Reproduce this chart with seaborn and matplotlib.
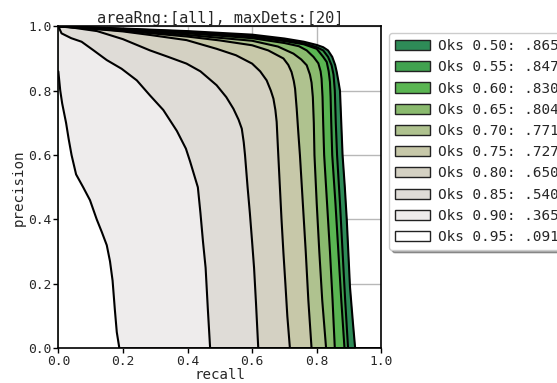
import matplotlib
matplotlib.use("Agg")
import matplotlib.pyplot as plt
from matplotlib.patches import Patch
import seaborn as sns
import pandas as pd

# ---------------- data ----------------
oks_labels = ["Oks 0.50: .865", "Oks 0.55: .847", "Oks 0.60: .830", "Oks 0.65: .804",
              "Oks 0.70: .771", "Oks 0.75: .727", "Oks 0.80: .650", "Oks 0.85: .540",
              "Oks 0.90: .365", "Oks 0.95: .091"]

rec_50 = [0, 0.2, 0.4, 0.6, 0.7, 0.76, 0.8, 0.82, 0.835, 0.848, 0.857, 0.862, 0.867, 0.872, 0.876, 0.88, 0.887, 0.893, 0.903, 0.912, 0.919, 1.0]
pre_50 = [1, 0.993, 0.985, 0.974, 0.962, 0.952, 0.942, 0.935, 0.925, 0.905, 0.88, 0.858, 0.83, 0.80, 0.70, 0.60, 0.50, 0.40, 0.19, 0.08, 0.0, 0.0]

rec_55 = [0, 0.2, 0.4, 0.6, 0.7, 0.76, 0.8, 0.82, 0.835, 0.846, 0.852, 0.856, 0.859, 0.863, 0.872, 0.88, 0.888, 0.897, 1.0]
pre_55 = [1, 0.992, 0.983, 0.97, 0.958, 0.947, 0.935, 0.925, 0.905, 0.879, 0.85, 0.80, 0.70, 0.60, 0.45, 0.30, 0.15, 0.0, 0.0]

rec_60 = [0, 0.2, 0.4, 0.6, 0.7, 0.76, 0.80, 0.82, 0.831, 0.837, 0.841, 0.843, 0.845, 0.848, 0.858, 0.867, 0.876, 0.886, 1.0]
pre_60 = [1, 0.991, 0.981, 0.967, 0.954, 0.944, 0.93, 0.905, 0.889, 0.86, 0.827, 0.78, 0.70, 0.60, 0.45, 0.30, 0.15, 0.0, 0.0]

rec_65 = [0, 0.2, 0.4, 0.6, 0.7, 0.745, 0.769, 0.79, 0.805, 0.812, 0.815, 0.818, 0.82, 0.823, 0.832, 0.841, 0.849, 0.856, 1.0]
pre_65 = [1, 0.99, 0.978, 0.963, 0.948, 0.938, 0.925, 0.905, 0.885, 0.86, 0.837, 0.78, 0.70, 0.60, 0.45, 0.30, 0.15, 0.0, 0.0]

rec_70 = [0, 0.2, 0.4, 0.6, 0.68, 0.728, 0.752, 0.769, 0.779, 0.784, 0.788, 0.791, 0.793, 0.80, 0.808, 0.817, 0.829, 1.0]
pre_70 = [1, 0.988, 0.973, 0.955, 0.937, 0.915, 0.897, 0.879, 0.85, 0.825, 0.78, 0.70, 0.60, 0.45, 0.30, 0.15, 0.0, 0.0]

rec_75 = [0, 0.2, 0.4, 0.5, 0.6, 0.65, 0.697, 0.712, 0.722, 0.729, 0.733, 0.738, 0.743, 0.748, 0.754, 0.76, 0.766, 0.774, 0.784, 1.0]
pre_75 = [1, 0.986, 0.968, 0.956, 0.941, 0.925, 0.90, 0.88, 0.858, 0.83, 0.806, 0.744, 0.67, 0.60, 0.50, 0.40, 0.30, 0.15, 0.0, 0.0]

rec_80 = [0, 0.1, 0.2, 0.284, 0.397, 0.49, 0.55, 0.6, 0.625, 0.645, 0.658, 0.666, 0.672, 0.676, 0.681, 0.686, 0.691, 0.697, 0.703, 0.709, 0.717, 1.0]
pre_80 = [1, 0.993, 0.984, 0.973, 0.957, 0.93, 0.91, 0.884, 0.86, 0.832, 0.80, 0.775, 0.74, 0.703, 0.60, 0.50, 0.40, 0.295, 0.20, 0.10, 0.0, 0.0]

rec_85 = [0, 0.05, 0.12, 0.2, 0.284, 0.34, 0.397, 0.44, 0.49, 0.52, 0.542, 0.558, 0.568, 0.574, 0.578, 0.586, 0.593, 0.600, 0.606, 0.612, 0.619, 1.0]
pre_85 = [1, 0.995, 0.985, 0.96, 0.925, 0.905, 0.884, 0.86, 0.817, 0.78, 0.744, 0.71, 0.682, 0.64, 0.60, 0.50, 0.42, 0.33, 0.25, 0.14, 0.0, 0.0]

rec_90 = [0, 0.01, 0.04, 0.072, 0.108, 0.15, 0.196, 0.243, 0.284, 0.325, 0.367, 0.395, 0.408, 0.42, 0.432, 0.44, 0.448, 0.456, 0.463, 0.47, 1.0]
pre_90 = [1, 0.978, 0.963, 0.952, 0.926, 0.895, 0.868, 0.832, 0.785, 0.74, 0.675, 0.62, 0.58, 0.54, 0.50, 0.42, 0.33, 0.25, 0.12, 0.0, 0.0]

rec_95 = [0, 0.006, 0.012, 0.024, 0.032, 0.041, 0.055, 0.077, 0.098, 0.105, 0.119, 0.135, 0.15, 0.16, 0.168, 0.175, 0.181, 0.189, 1.0]
pre_95 = [0.86, 0.80, 0.76, 0.70, 0.65, 0.60, 0.54, 0.50, 0.46, 0.44, 0.40, 0.36, 0.32, 0.27, 0.21, 0.12, 0.05, 0.0, 0.0]

recalls = [rec_50, rec_55, rec_60, rec_65, rec_70, rec_75, rec_80, rec_85, rec_90, rec_95]
precisions = [pre_50, pre_55, pre_60, pre_65, pre_70, pre_75, pre_80, pre_85, pre_90, pre_95]

colors = ["#2e8b57", "#41a24f", "#5ab552", "#8aba6e", "#afc28f",
          "#c7c8a9", "#d4d1c3", "#dfdcd7", "#eeecec", "#ffffff"]

ticks = [0.0, 0.2, 0.4, 0.6, 0.8, 1.0]
tick_labels = ["0.0", "0.2", "0.4", "0.6", "0.8", "1.0"]

# ---------------- plot ----------------
sns.set_style("whitegrid")
plt.rcParams["font.family"] = ["DejaVu Sans Mono", "DejaVu Sans"]

fig = plt.figure(figsize=(5.57, 3.83), dpi=100)
ax = fig.add_axes([0.1047, 0.0907, 0.5799, 0.8407])

for rec, pre, col in zip(recalls, precisions, colors):
    ax.fill_between(rec, pre, 0, color=col, linewidth=0, zorder=2)

for rec, pre in zip(recalls, precisions):
    df = pd.DataFrame({"recall": rec, "precision": pre})
    sns.lineplot(data=df, x="recall", y="precision", sort=False, estimator=None,
                 color="black", linewidth=1.5, ax=ax, zorder=3)

ax.set_xlim(0, 1)
ax.set_ylim(0, 1)
ax.set_xticks(ticks)
ax.set_xticklabels(tick_labels)
ax.set_yticks(ticks)
ax.set_yticklabels(tick_labels)
ax.tick_params(axis="both", labelsize=9.3, length=3.5, width=1, color="black",
               left=True, bottom=True, pad=1.5)
ax.grid(True, color="#b8b8b8", linewidth=1.0)
for gl in ax.get_xgridlines() + ax.get_ygridlines():
    gl.set_zorder(2.5)
for s in ax.spines.values():
    s.set_color("black")
    s.set_linewidth(1.2)
    s.set_zorder(4)

ax.set_xlabel("recall", fontsize=10.2, labelpad=0)
ax.set_ylabel("precision", fontsize=10.2, labelpad=2)
ax.set_title("areaRng:[all], maxDets:[20]", fontsize=11, pad=2)

handles = [Patch(facecolor=c, edgecolor="#222222", linewidth=1.0) for c in colors]
leg = ax.legend(handles, oks_labels, loc="upper left", bbox_to_anchor=(1.025, 0.978),
                borderaxespad=0, fontsize=10.4, fancybox=True, shadow=True,
                framealpha=1, edgecolor="#cccccc", handlelength=2.4,
                handletextpad=0.55, labelspacing=0.5)

fig.savefig("out.png", dpi=100)
